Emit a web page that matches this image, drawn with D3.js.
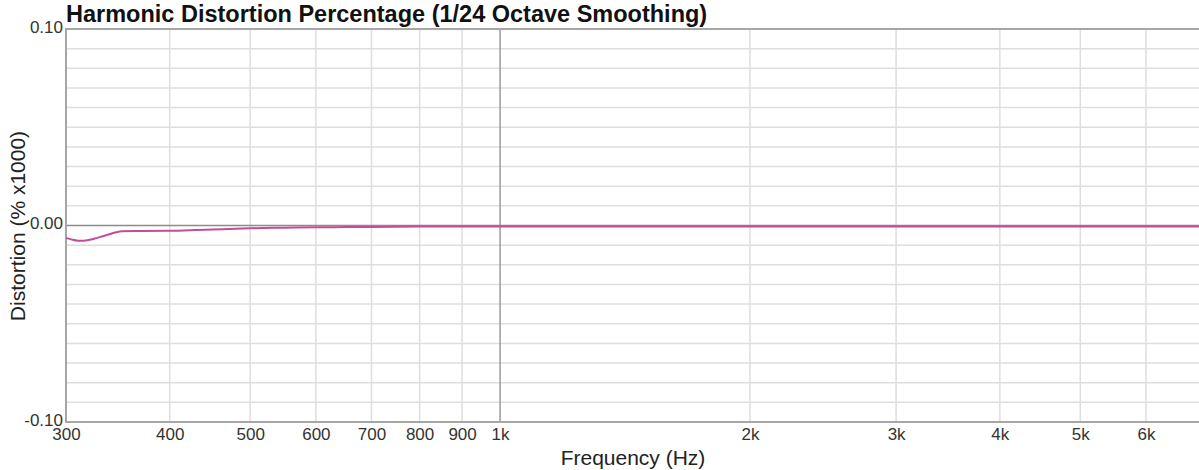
<!DOCTYPE html>
<html><head><meta charset="utf-8">
<script src="https://cdn.jsdelivr.net/npm/d3@7"></script>
<style>
html,body{margin:0;padding:0;background:#fff;}
svg{display:block;font-family:"Liberation Sans",Arial,Helvetica,sans-serif;}
</style></head>
<body>
<svg id="chart" width="1199" height="470"></svg>
<script>
const freqs = [300, 305, 310, 315, 320, 325, 330, 340, 350, 370, 400, 430, 450, 480, 500, 550, 600, 650, 700, 800, 900, 1000, 1500, 2000, 3000, 4000, 5000, 6000, 6950];
const distortion = [-0.0063, -0.0072, -0.0077, -0.0077, -0.0073, -0.0066, -0.0058, -0.0042, -0.0029, -0.0028, -0.0027, -0.0023, -0.0020, -0.0017, -0.0014, -0.0011, -0.0009, -0.0008, -0.0007, -0.0005, -0.0005, -0.0005, -0.0005, -0.0005, -0.0005, -0.0005, -0.0005, -0.0005, -0.0005];
const xTickValues = [300, 400, 500, 600, 700, 800, 900, 1000, 2000, 3000, 4000, 5000, 6000];
const xTickLabels = ["300", "400", "500", "600", "700", "800", "900", "1k", "2k", "3k", "4k", "5k", "6k"];
const yLabelValues = [0.10, 0.00, -0.10];
const yLabelTexts = ["0.10", "0.00", "-0.10"];
const yGridStep = 0.01;

const svg = d3.select("#chart");
const pLeft = 66, pTop = 29, pRight = 1199, pBottom = 422;
const x = d3.scaleLog().domain([300, 6950]).range([pLeft, pRight]);
const y = d3.scaleLinear().domain([-0.1, 0.1]).range([pBottom, pTop]);

const yGrid = d3.range(-10, 11).map(i => i * yGridStep);

// horizontal grid
svg.append("g").selectAll("line").data(yGrid.filter(v => Math.abs(v) > 1e-9)).join("line")
  .attr("x1", pLeft).attr("x2", pRight)
  .attr("y1", d => y(d)).attr("y2", d => y(d))
  .attr("stroke", "#dedede").attr("stroke-width", 1.5);
// vertical grid
svg.append("g").selectAll("line").data(xTickValues.filter(v => v !== 1000 && v !== 300)).join("line")
  .attr("x1", d => x(d)).attr("x2", d => x(d))
  .attr("y1", pTop).attr("y2", pBottom)
  .attr("stroke", "#dedede").attr("stroke-width", 1.5);
// 1k line
svg.append("line").attr("x1", x(1000)).attr("x2", x(1000)).attr("y1", pTop).attr("y2", pBottom)
  .attr("stroke", "#8c8c8c").attr("stroke-width", 1.3);
// zero line
svg.append("line").attr("x1", pLeft).attr("x2", pRight).attr("y1", y(0)).attr("y2", y(0))
  .attr("stroke", "#8c8c8c").attr("stroke-width", 1.3);

// borders
svg.append("path")
  .attr("d", `M${pRight},${pTop}H${pLeft}V${pBottom}H${pRight}`)
  .attr("fill", "none").attr("stroke", "#a6a6a6").attr("stroke-width", 2);

// data line
const line = d3.line().x((d, i) => x(freqs[i])).y(d => y(d)).curve(d3.curveMonotoneX);
svg.append("path").datum(distortion).attr("d", line)
  .attr("fill", "none").attr("stroke", "#c44d98").attr("stroke-width", 2);

// x tick labels
const xAxis = d3.axisBottom(x).tickValues(xTickValues).tickFormat((d, i) => xTickLabels[i]).tickSize(0).tickPadding(6);
const gx = svg.append("g").attr("transform", `translate(0,${pBottom})`).call(xAxis);
gx.select(".domain").remove();
gx.selectAll("text").attr("font-size", 17).attr("fill", "#333").attr("font-family", "Liberation Sans, Arial, sans-serif");

// y tick labels
const yAxis = d3.axisLeft(y).tickValues(yLabelValues).tickFormat((d, i) => yLabelTexts[i]).tickSize(0).tickPadding(3);
const gy = svg.append("g").attr("transform", `translate(${pLeft},-2)`).call(yAxis);
gy.select(".domain").remove();
gy.selectAll("text").attr("font-size", 17).attr("fill", "#333").attr("font-family", "Liberation Sans, Arial, sans-serif");

// title
svg.append("text").attr("x", 66).attr("y", 22)
  .attr("font-size", 23.5).attr("font-weight", "bold").attr("fill", "#111")
  .text("Harmonic Distortion Percentage (1/24 Octave Smoothing)");

// axis titles
svg.append("text").attr("x", 633).attr("y", 465).attr("text-anchor", "middle")
  .attr("font-size", 21).attr("fill", "#222").text("Frequency (Hz)");
svg.append("text").attr("transform", "translate(25,226) rotate(-90)").attr("text-anchor", "middle")
  .attr("font-size", 21).attr("fill", "#222").text("Distortion (% x1000)");
</script>
</body></html>
